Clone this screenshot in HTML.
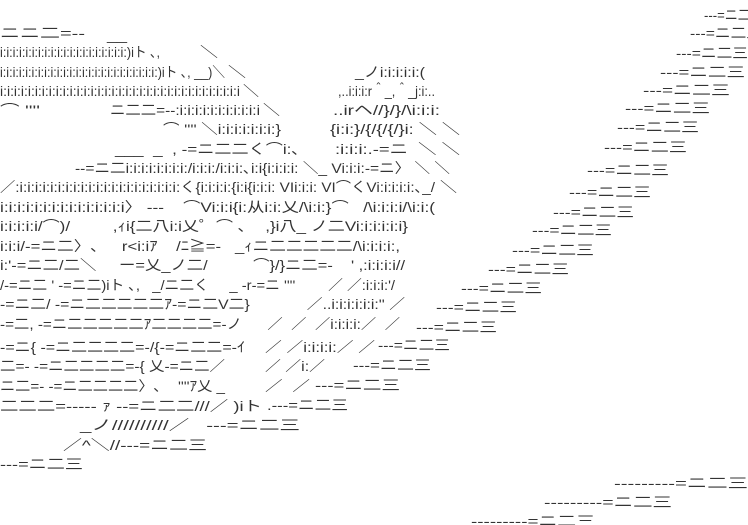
<!DOCTYPE html>
<html><head><meta charset="utf-8"><style>
html,body{margin:0;padding:0;background:#fff;width:748px;height:525px;overflow:hidden}
svg text{font-family:"Liberation Sans","Noto Sans CJK JP",sans-serif;font-size:14px;fill:#333;white-space:pre}
</style></head><body>
<svg width="748" height="525" xmlns="http://www.w3.org/2000/svg">
<g lengthAdjust="spacingAndGlyphs">
<text x="0" y="38" textLength="85" lengthAdjust="spacingAndGlyphs">ニニ二=--</text>
<text x="107" y="40" textLength="20" lengthAdjust="spacingAndGlyphs">__</text>
<text x="0" y="57" textLength="160" lengthAdjust="spacingAndGlyphs">i:i:i:i:i:i:i:i:i:i:i:i:i:i:i:i:i:i:i:i:)iト ､,</text>
<text x="200" y="57" textLength="18" lengthAdjust="spacingAndGlyphs">＼</text>
<text x="0" y="77" textLength="225" lengthAdjust="spacingAndGlyphs">i:i:i:i:i:i:i:i:i:i:i:i:i:i:i:i:i:i:i:i:i:i:i:i:i:)iト ､, __)＼</text>
<text x="228" y="77" textLength="18" lengthAdjust="spacingAndGlyphs">＼</text>
<text x="355" y="77" textLength="70" lengthAdjust="spacingAndGlyphs">_ノi:i:i:i:i:(</text>
<text x="0" y="96" textLength="240" lengthAdjust="spacingAndGlyphs">i:i:i:i:i:i:i:i:i:i:i:i:i:i:i:i:i:i:i:i:i:i:i:i:i:i:i:i:i:i:i:i:i:i:i</text>
<text x="243" y="96" textLength="16" lengthAdjust="spacingAndGlyphs">＼</text>
<text x="338" y="96" textLength="97" lengthAdjust="spacingAndGlyphs">,..i:i:i:r＾_,＾_j:i:..</text>
<text x="0" y="115" textLength="40" lengthAdjust="spacingAndGlyphs">⌒ ''''</text>
<text x="110" y="115" textLength="150" lengthAdjust="spacingAndGlyphs">ニ二二=--:i:i:i:i:i:i:i:i:i:i:i</text>
<text x="263" y="115" textLength="17" lengthAdjust="spacingAndGlyphs">＼</text>
<text x="333" y="115" textLength="107" lengthAdjust="spacingAndGlyphs">..irヘ//}/}/\i:i:i:</text>
<text x="163" y="134" textLength="118" lengthAdjust="spacingAndGlyphs">⌒ '''' ＼i:i:i:i:i:i:i:}</text>
<text x="330" y="134" textLength="130" lengthAdjust="spacingAndGlyphs">{i:i:}/{/{/{/}i: ＼ ＼</text>
<text x="115" y="154" textLength="185" lengthAdjust="spacingAndGlyphs">___  _  , -=ニ二二く⌒i:､</text>
<text x="335" y="154" textLength="125" lengthAdjust="spacingAndGlyphs">:i:i:i:.-=ニ  ＼ ＼</text>
<text x="75" y="173" textLength="375" lengthAdjust="spacingAndGlyphs">--=ニ二i:i:i:i:i:i:i:i:/i:i:i:/i:i:i:､i:i{i:i:i:i: ＼_ Vi:i:i:-=ニ〉 ＼ ＼</text>
<text x="0" y="192" textLength="435" lengthAdjust="spacingAndGlyphs">／:i:i:i:i:i:i:i:i:i:i:i:i:i:i:i:i:i:i:i:i:i:く{i:i:i:i:{i:i{i:i:i: VIi:i:i: VI⌒くVi:i:i:i:i:､_/</text>
<text x="440" y="192" textLength="17" lengthAdjust="spacingAndGlyphs">＼</text>
<text x="0" y="212" textLength="435" lengthAdjust="spacingAndGlyphs">i:i:i:i:i:i:i:i:i:i:i:i:i:i:i〉 ---    ⌒Vi:i:i{i:从i:i:乂/\i:i:}⌒   /\i:i:i:i/\i:i:(</text>
<text x="0" y="231" textLength="408" lengthAdjust="spacingAndGlyphs">i:i:i:i:i/⌒)/         ,ｨi{二八i:i乂゜⌒ ､    ,}i八_ ノ二Vi:i:i:i:i:i}</text>
<text x="0" y="251" textLength="400" lengthAdjust="spacingAndGlyphs">i:i:i/-=ニ二〉､     r&lt;i:iｱ    /ﾆ≧=-   _ｨニ二二二二二/\i:i:i:i:,</text>
<text x="0" y="270" textLength="405" lengthAdjust="spacingAndGlyphs">i:'-=ニ二/二＼     ー=乂_ノ二/          ⌒}/}ニ二=-    ' ,:i:i:i:i//</text>
<text x="0" y="290" textLength="395" lengthAdjust="spacingAndGlyphs">/-=ニ二 ' -=ニ二)iト ､,   _/ニ二く     _ -r-=ニ ''''        ／ ／:i:i:i:'/</text>
<text x="0" y="309" textLength="405" lengthAdjust="spacingAndGlyphs">-=ニ二/ -=ニ二二二二二ｱ-=ニ二V二}             ／..i:i:i:i:i:i:'' ／</text>
<text x="0" y="329" textLength="400" lengthAdjust="spacingAndGlyphs">-=二, -=ニ二二二二二ｱ二二二二=-ノ      ／  ／  ／i:i:i:i:／  ／</text>
<text x="0" y="352" textLength="245" lengthAdjust="spacingAndGlyphs">-=ニ{ -=ニ二二二二=-/{-=ニ二二=-ｲ</text>
<text x="265" y="352" textLength="110" lengthAdjust="spacingAndGlyphs">／ ／i:i:i:i:／ ／</text>
<text x="0" y="371" textLength="225" lengthAdjust="spacingAndGlyphs">二=- -=ニ二二二二=-{ 乂-=ニ二／</text>
<text x="265" y="371" textLength="60" lengthAdjust="spacingAndGlyphs">／ ／i:／</text>
<text x="0" y="391" textLength="225" lengthAdjust="spacingAndGlyphs">ニ二=- -=ニ二二二二〉､    ''''ｱ乂 _</text>
<text x="265" y="391" textLength="45" lengthAdjust="spacingAndGlyphs">／  ／</text>
<text x="0" y="411" textLength="262" lengthAdjust="spacingAndGlyphs">二二二=----- ｧ --=ニ二二///／ )iト</text>
<text x="80" y="430" textLength="220" lengthAdjust="spacingAndGlyphs">_ノ//////////／   ---=ニ二三</text>
<text x="63" y="450" textLength="144" lengthAdjust="spacingAndGlyphs">／^＼//---=ニ二三</text>
<text x="0" y="469" textLength="83" lengthAdjust="spacingAndGlyphs">---=ニ二三</text>
<!-- right streaks -->
<text x="704" y="20" textLength="60" lengthAdjust="spacingAndGlyphs">---=ニ二三</text>
<text x="690" y="38" textLength="72" lengthAdjust="spacingAndGlyphs">---=ニ二三</text>
<text x="676" y="58" textLength="72" lengthAdjust="spacingAndGlyphs">---=ニ二三</text>
<text x="660" y="77" textLength="85" lengthAdjust="spacingAndGlyphs">---=ニ二三</text>
<text x="643" y="95" textLength="87" lengthAdjust="spacingAndGlyphs">---=ニ二三</text>
<text x="625" y="113" textLength="85" lengthAdjust="spacingAndGlyphs">---=ニ二三</text>
<text x="617" y="132" textLength="82" lengthAdjust="spacingAndGlyphs">---=ニ二三</text>
<text x="604" y="152" textLength="83" lengthAdjust="spacingAndGlyphs">---=ニ二三</text>
<text x="587" y="175" textLength="82" lengthAdjust="spacingAndGlyphs">---=ニ二三</text>
<text x="569" y="197" textLength="82" lengthAdjust="spacingAndGlyphs">---=ニ二三</text>
<text x="553" y="217" textLength="81" lengthAdjust="spacingAndGlyphs">---=ニ二三</text>
<text x="532" y="235" textLength="80" lengthAdjust="spacingAndGlyphs">---=ニ二三</text>
<text x="512" y="255" textLength="82" lengthAdjust="spacingAndGlyphs">---=ニ二三</text>
<text x="488" y="274" textLength="81" lengthAdjust="spacingAndGlyphs">---=ニ二三</text>
<text x="461" y="293" textLength="81" lengthAdjust="spacingAndGlyphs">---=ニ二三</text>
<text x="436" y="312" textLength="81" lengthAdjust="spacingAndGlyphs">---=ニ二三</text>
<text x="416" y="332" textLength="81" lengthAdjust="spacingAndGlyphs">---=ニ二三</text>
<text x="378" y="350" textLength="72" lengthAdjust="spacingAndGlyphs">---=ニ二三</text>
<text x="353" y="370" textLength="78" lengthAdjust="spacingAndGlyphs">---=ニ二三</text>
<text x="315" y="390" textLength="85" lengthAdjust="spacingAndGlyphs">---=ニ二三</text>
<text x="267" y="410" textLength="81" lengthAdjust="spacingAndGlyphs">.---=ニ二三</text>
<text x="614" y="488" textLength="134" lengthAdjust="spacingAndGlyphs">---------=ニ二三</text>
<text x="544" y="507" textLength="128" lengthAdjust="spacingAndGlyphs">---------=ニ二三</text>
<text x="471" y="526" textLength="124" lengthAdjust="spacingAndGlyphs">---------=ニ二三</text>
</g>
</svg>
</body></html>
